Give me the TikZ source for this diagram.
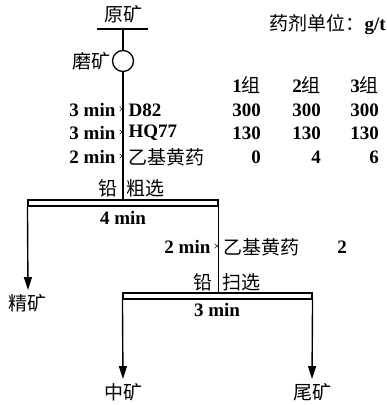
\documentclass[tikz,border=0pt]{standalone}
\usepackage{fontspec}
\setmainfont{Liberation Serif}
\newfontfamily\cjk{Noto Sans CJK SC}
\usetikzlibrary{arrows.meta,positioning}
\newcommand\zh[1]{{\mdseries\cjk #1}}
\tikzset{
  lbl/.style={font=\fontsize{19}{22}\selectfont\bfseries, inner sep=1pt},
  mill/.style={circle, draw, line width=1.3pt, minimum size=21pt, inner sep=0pt},
  cellbar/.style={draw, line width=1.1pt, minimum height=6pt, inner sep=0pt},
  pipe/.style={line width=1.4pt},
  flow/.style={pipe, -{Triangle[length=13pt, width=8pt]}, shorten >=3pt},
  cross/.style={font=\fontsize{12}{12}\selectfont, inner sep=0.3pt}
}
\begin{document}
\begin{tikzpicture}[x=1pt, y=-1pt]
  \useasboundingbox (0,0) rectangle (387,405);
  % feed and grinding
  \node[lbl] (feed) at (123,14) {\zh{原矿}};
  \coordinate (feedL) at (97,29);
  \coordinate (feedR) at (148,29);
  \coordinate (feedM) at (123,29);
  \draw[pipe] (feedL) -- (feedR);
  \node[mill] (mill) at (123,61) {};
  \node[lbl, left=0.5pt of mill] (grind) {\zh{磨矿}};
  % flotation cells
  \node[cellbar, minimum width=190pt] (rough) at (123,203) {};
  \node[cellbar, minimum width=189pt] (scav) at (217.5,296) {};
  \node[lbl, anchor=east] (roughA) at (119,188) {\zh{铅}};
  \node[lbl, anchor=west] (roughB) at (125,188) {\zh{粗选}};
  \node[lbl] (roughT) at (123,218) {4 min};
  \node[lbl, anchor=east] (scavA) at (214,282) {\zh{铅}};
  \node[lbl, anchor=west] (scavB) at (221,282) {\zh{扫选}};
  \node[lbl] (scavT) at (217,310) {3 min};
  % products
  \node[lbl] (conc) at (28,303) {\zh{精矿}};
  \node[lbl] (mid) at (123,392) {\zh{中矿}};
  \node[lbl] (tail) at (312,392) {\zh{尾矿}};
  % pipes
  \draw[pipe] (feedM) -- (mill.north);
  \draw[pipe] (mill.south) -- (rough.north);
  \draw[pipe] (rough.south east) -- (rough.south east |- scav.north);
  \draw[flow] (rough.south west) -- (conc.north);
  \draw[flow] (scav.south west) -- (mid.north);
  \draw[flow] (scav.south east) -- (tail.north);
  % reagents
  \foreach \y/\t/\r [count=\i] in {110/3 min/D82, 133/3 min/HQ77, 157/2 min/\zh{乙基黄药}} {
    \node[cross] (x\i) at (122,\y) {×};
    \node[lbl, left=1.5pt of x\i] (xt\i) {\t};
    \node[lbl, right=1.5pt of x\i] (xr\i) {\r};
  }
  \node[cross] (x4) at (217,247) {×};
  \node[lbl, left=1.5pt of x4] (xt4) {2 min};
  \node[lbl, right=1.5pt of x4] (xr4) {\zh{乙基黄药}};
  \node[lbl, anchor=east] (xv4) at (348,247) {2};
  % dosage table
  \node[lbl, anchor=east] (unit) at (387,25) {\zh{药剂单位：}g/t};
  \foreach \y/\a/\b/\c [count=\i] in {85/1\zh{组}/2\zh{组}/3\zh{组}, 110/300/300/300, 133/130/130/130, 157/0/4/6} {
    \node[lbl, anchor=east] (ta\i) at (262,\y) {\a};
    \node[lbl, anchor=east] (tb\i) at (322,\y) {\b};
    \node[lbl, anchor=east] (tc\i) at (380,\y) {\c};
  }
\end{tikzpicture}
\end{document}
